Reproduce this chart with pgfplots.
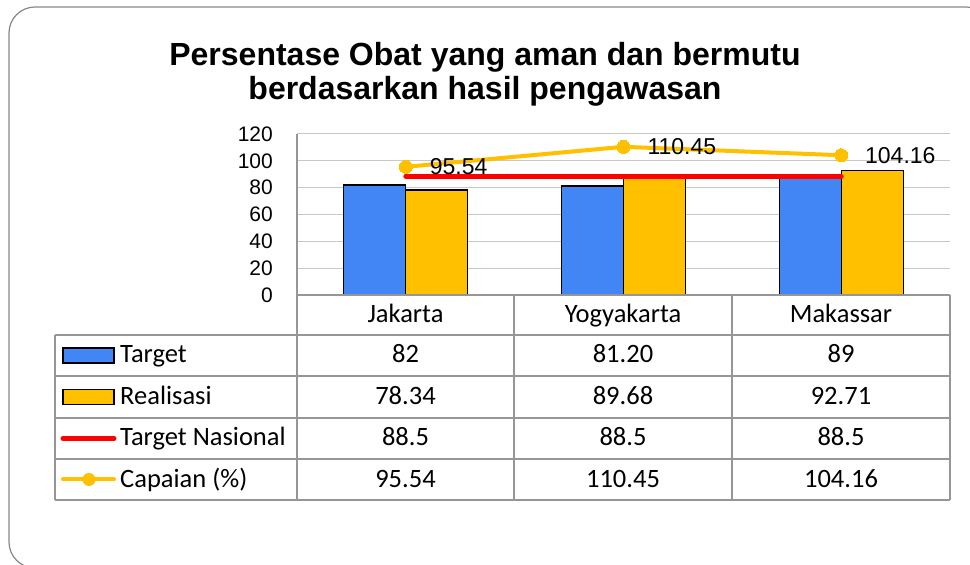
\documentclass[border=0pt]{standalone}
\usepackage{pgfplots}
\pgfplotsset{compat=1.18}
\usepackage{fontspec}
\setmainfont{Liberation Sans}
\newfontfamily\calibri{Carlito}
\definecolor{tblue}{RGB}{66,133,244}
\definecolor{tgold}{RGB}{255,192,0}
\definecolor{tred}{RGB}{255,0,0}
\definecolor{gridgray}{RGB}{200,200,200}
\definecolor{tablegray}{RGB}{150,150,150}
\definecolor{framegray}{RGB}{135,135,135}

\begin{document}
\begin{tikzpicture}
\path[use as bounding box] (0pt,0pt) rectangle (970pt,565pt);

\begin{axis}[
  at={(297pt,270pt)}, anchor=south west,
  scale only axis, width=653pt, height=161pt,
  xmin=-0.5, xmax=2.5, ymin=0, ymax=120,
  xtick=\empty, ytick={0,20,...,120},
  ymajorgrids, grid style={gridgray, line width=1pt},
  axis line style={draw=none},
  tick style={draw=none},
  yticklabel style={font=\fontsize{21}{21}\selectfont, anchor=east, inner sep=0pt, xshift=-24pt},
  /pgf/number format/assume math mode=true,
  clip=false,
]
\addplot[ybar, bar width=62pt, bar shift=-31pt, fill=tblue, draw=black, line width=1.3pt]
  coordinates {(0,82) (1,81.2) (2,89)};
\addplot[ybar, bar width=62pt, bar shift=31pt, fill=tgold, draw=black, line width=1.3pt]
  coordinates {(0,78.34) (1,89.68) (2,92.71)};
\addplot[tred, line width=5pt, line cap=round, mark=none]
  coordinates {(0,88.5) (1,88.5) (2,88.5)};
\addplot[tgold, line width=4pt, line cap=round, mark=*, mark size=6.5pt,
  mark options={fill=tgold, draw=tgold, line width=0pt},
  nodes near coords,
  nodes near coords style={text=black, anchor=west, inner sep=0pt, xshift=24pt,
    font=\fontsize{23}{23}\selectfont, /pgf/number format/fixed, /pgf/number format/precision=2}]
  coordinates {(0,95.54) (1,110.45) (2,104.16)};
\end{axis}

\begin{scope}[x=1pt,y=1pt]
% outer rounded frame, cut at the right and bottom edges
\begin{scope}
  \clip (0,0) rectangle (970,565);
  \draw[framegray, line width=1.2pt, rounded corners=26pt] (9,558) rectangle (992,-3);
\end{scope}

% title
\node[anchor=base, inner sep=0pt, font=\bfseries\fontsize{32}{36}\selectfont] at (485,499) {Persentase Obat yang aman dan bermutu};
\node[anchor=base, inner sep=0pt, font=\bfseries\fontsize{32}{36}\selectfont] at (485,465) {berdasarkan hasil pengawasan};

% data table
\draw[tablegray, line width=1.3pt]
  (297,431) -- (297,65)
  (514,270) -- (514,65)
  (732,270) -- (732,65)
  (950,270) -- (950,65)
  (55,230) -- (55,65)
  (297,270) -- (950,270)
  (55,230) -- (950,230)
  (55,189) -- (950,189)
  (55,147) -- (950,147)
  (55,106) -- (950,106)
  (55,65) -- (950,65);

\begin{scope}[every node/.style={anchor=base, inner sep=0pt, font=\calibri\fontsize{26.5}{26.5}\selectfont}]
  \node at (405.5,242) {Jakarta};
  \node at (623,242) {Yogyakarta};
  \node at (841,242) {Makassar};
  \node at (405.5,202) {82};
  \node at (623,202) {81.20};
  \node at (841,202) {89};
  \node at (405.5,160) {78.34};
  \node at (623,160) {89.68};
  \node at (841,160) {92.71};
  \node at (405.5,119) {88.5};
  \node at (623,119) {88.5};
  \node at (841,119) {88.5};
  \node at (405.5,77) {95.54};
  \node at (623,77) {110.45};
  \node at (841,77) {104.16};
  \node[anchor=base west] at (120,202) {Target};
  \node[anchor=base west] at (120,160) {Realisasi};
  \node[anchor=base west] at (120,119) {Target Nasional};
  \node[anchor=base west] at (120,77) {Capaian (\%)};
\end{scope}

% legend keys
\draw[fill=tblue, draw=black, line width=1.3pt] (63,202) rectangle (114,217);
\draw[fill=tgold, draw=black, line width=1.3pt] (63,160.5) rectangle (114,175.5);
\draw[tred, line width=5pt, line cap=round] (63,126.5) -- (114,126.5);
\draw[tgold, line width=4pt, line cap=round] (63,85.5) -- (114,85.5);
\fill[tgold] (89,85.5) circle (6.5pt);
\end{scope}
\end{tikzpicture}
\end{document}
